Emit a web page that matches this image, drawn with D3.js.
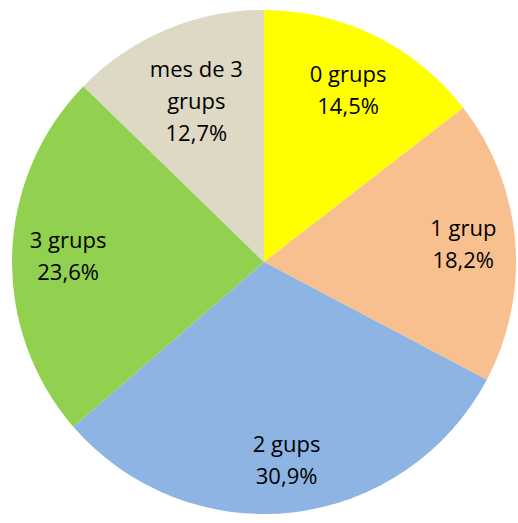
<!DOCTYPE html>
<html>
<head>
<meta charset="utf-8">
<script src="https://cdn.jsdelivr.net/npm/d3@7"></script>
<style>
  html, body { margin: 0; padding: 0; background: #fff; overflow: hidden; }
  svg { display: block; }
</style>
</head>
<body>
<script>
const categories = ['0 grups', '1 grup', '2 gups', '3 grups', 'mes de 3 grups'];
const values = [14.5, 18.2, 30.9, 23.6, 12.7];
const percentLabels = ['14,5%', '18,2%', '30,9%', '23,6%', '12,7%'];
const labelLines = [['0 grups'], ['1 grup'], ['2 gups'], ['3 grups'], ['mes de 3', 'grups']];
const colors = ['#ffff00', '#f9c08f', '#8eb4e3', '#92d050', '#ddd9c4'];

const width = 518, height = 523;
const cx = 264, cy = 262, radius = 252;

const svg = d3.select('body')
  .append('svg')
  .attr('width', width)
  .attr('height', height);

const g = svg.append('g').attr('transform', `translate(${cx},${cy})`);

const pie = d3.pie().sort(null).value(d => d);
const arcs = pie(values);

const arc = d3.arc().innerRadius(0).outerRadius(radius);

g.selectAll('path.slice')
  .data(arcs)
  .join('path')
  .attr('class', 'slice')
  .attr('d', arc)
  .attr('fill', (d, i) => colors[i]);

// labels: name lines + percentage, pushed out along the mid angle
// as far as the text box still fits inside the pie (best fit)
const lineH = 32;
const margin = 14;

const labels = g.selectAll('text.lbl')
  .data(arcs)
  .join('text')
  .attr('class', 'lbl')
  .attr('text-anchor', 'middle')
  .attr('font-family', '"Open Sans", sans-serif')
  .attr('font-size', 22)
  .attr('fill', '#000');

labels.each(function (d, i) {
  const el = d3.select(this);
  const lines = labelLines[i].concat([percentLabels[i]]);
  const y0 = -(lines.length - 1) * lineH / 2;
  el.selectAll('tspan')
    .data(lines)
    .join('tspan')
    .attr('x', 0)
    .attr('y', (t, k) => y0 + k * lineH)
    .attr('dy', '0.35em')
    .text(t => t);

  const bb = this.getBBox();
  const w = bb.width / 2, h = lines.length * lineH / 2;
  const a = (d.startAngle + d.endAngle) / 2;
  const ux = Math.sin(a), uy = -Math.cos(a);
  let t = 0;
  for (let s = 0; s < radius; s += 1) {
    const px = ux * s, py = uy * s;
    const corners = [[px - w, py - h], [px + w, py - h], [px - w, py + h], [px + w, py + h]];
    const ok = corners.every(([x, y]) => Math.hypot(x, y) <= radius - margin);
    if (!ok) break;
    t = s;
  }
  el.attr('transform', `translate(${ux * t},${uy * t})`);
});
</script>
</body>
</html>
